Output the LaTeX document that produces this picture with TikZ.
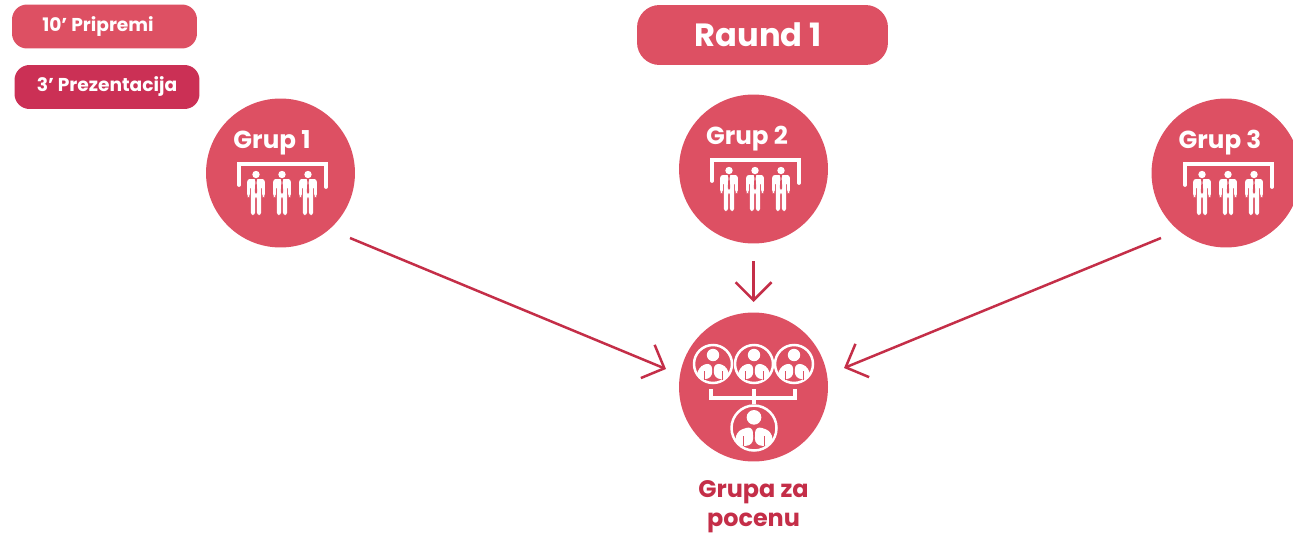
\documentclass[tikz,border=0pt]{standalone}
\usepackage{fontspec}
\setmainfont{Poppins}
\usepackage{tikz}
\usetikzlibrary{positioning}
\usetikzlibrary{arrows.meta}
\definecolor{rosered}{HTML}{DD5063}
\definecolor{deepred}{HTML}{CB3055}
\definecolor{arrowred}{HTML}{C42E48}
\tikzset{
  x=0.02cm, y=-0.02cm,
  groupdot/.style={circle,fill=rosered,minimum size=2.98cm,inner sep=0pt},
  tagbox/.style={rounded corners=0.3cm,text=white,font=\bfseries\fontsize{10.6}{10.6}\selectfont,inner sep=0pt},
  grouplabel/.style={font=\bfseries\fontsize{14}{14}\selectfont,text=white},
  flow/.style={draw=arrowred,line width=0.05cm,arrows={-Straight Barb[length=0.36cm,width=0.72cm,line width=0.05cm]}},
  pics/suited/.style={code={
    % head, then body with cut out tie
    \fill[white] (0,-14.5) circle (3.7);
    \fill[white,rounded corners=1.5] (-8.8,-10) -- (8.8,-10) -- (8.8,8) -- (6.2,8) -- (6.2,-3) -- (5.2,-3) -- (5.2,26) -- (0.9,26) -- (0.9,7) -- (-0.9,7) -- (-0.9,26) -- (-5.2,26) -- (-5.2,-3) -- (-6.2,-3) -- (-6.2,8) -- (-8.8,8) -- cycle;
    \fill[rosered] (-1.2,-10) -- (1.2,-10) -- (0.6,-7) -- (1.2,3) -- (0,5) -- (-1.2,3) -- (-0.6,-7) -- cycle;
  }},
  pics/trio/.style={code={
    % bracket over three people
    \draw[white,line width=0.075cm,line cap=round] (-43,11) -- (-43,-10) -- (44,-10) -- (44,13);
    \pic at (-26,15) {suited};
    \pic at (0,15) {suited};
    \pic at (26,15) {suited};
  }},
  pics/avatar/.style={code={
    % ring with bust inside
    \draw[white,line width=0.05cm] (0,0) circle (#1);
    \begin{scope}[scale=#1/19]
      \clip (-16,-16) rectangle (16,15);
      \fill[white] (0,-9) circle (6.2);
      \fill[white,rounded corners=4] (-15.5,15) -- (-15.5,3) -- (-1,-2) -- (-0.7,15) -- cycle;
      \fill[white,rounded corners=4] (15.5,15) -- (15.5,3) -- (1,-2) -- (0.7,15) -- cycle;
      \fill[rosered] (-9.5,7) rectangle (-8.7,18);
      \fill[rosered] (9.5,7) rectangle (8.7,18);
    \end{scope}
  }},
}

\begin{document}
\begin{tikzpicture}
        % Fix the page size
        \useasboundingbox (0,0) rectangle (1293,537);
        % Legend and title
        \node[tagbox,fill=rosered,minimum width=3.7cm,minimum height=0.88cm] (pripremi) at (104.5,26.5) {\hspace*{-0.26cm}\raisebox{-0.09cm}{10’ Pripremi}};
        \node[tagbox,fill=deepred,minimum width=3.7cm,minimum height=0.88cm] (prezentacija) at (107,87) {\raisebox{-0.09cm}{3’ Prezentacija}};
        \node[tagbox,fill=rosered,rounded corners=0.45cm,minimum width=5.02cm,minimum height=1.2cm,font=\bfseries\fontsize{18.3}{18.3}\selectfont] (raund) at (762.5,35) {\hspace*{-0.18cm}\raisebox{-0.02cm}{Raund 1}};
        % Groups
        \node[groupdot] (grup1) at (280.5,173) {};
        \node[groupdot] (grup2) at (753.5,169) {};
        \node[groupdot] (grup3) at (1226,173) {};
        \node[groupdot] (ocena) at (753.5,387) {};
        \node[grouplabel] (label1) at (272,143) {Grup 1};
        \node[grouplabel] (label2) at (747,139) {Grup 2};
        \node[grouplabel] (label3) at (1220,143) {Grup 3};
        \pic at (282,174) {trio};
        \pic at (755,170) {trio};
        \pic at (1228,174) {trio};
        % Evaluators
        \pic at (713,364) {avatar=19};
        \pic at (754,364) {avatar=19};
        \pic at (794,364) {avatar=19};
        \pic at (754,428) {avatar=22.5};
        \draw[white,line width=0.08cm] (711,389) -- (711,398) -- (795,398) -- (795,389);
        \draw[white,line width=0.08cm] (754,389) -- (754,404);
        \node[align=center,text=arrowred,font=\bfseries\fontsize{13.6}{16.5}\selectfont] (ocenalabel) at (753.5,507) {Grupa za\\pocenu};
        % Arrows
        \coordinate (from1) at (350,238);
        \coordinate (to1) at (666,369);
        \coordinate (from2) at (753.5,261);
        \coordinate (to2) at (753.5,302);
        \coordinate (from3) at (1161,238);
        \coordinate (to3) at (844,368);
        \draw[flow] (from1) -- (to1);
        \draw[flow] (from2) -- (to2);
        \draw[flow] (from3) -- (to3);
      \end{tikzpicture}
\end{document}
